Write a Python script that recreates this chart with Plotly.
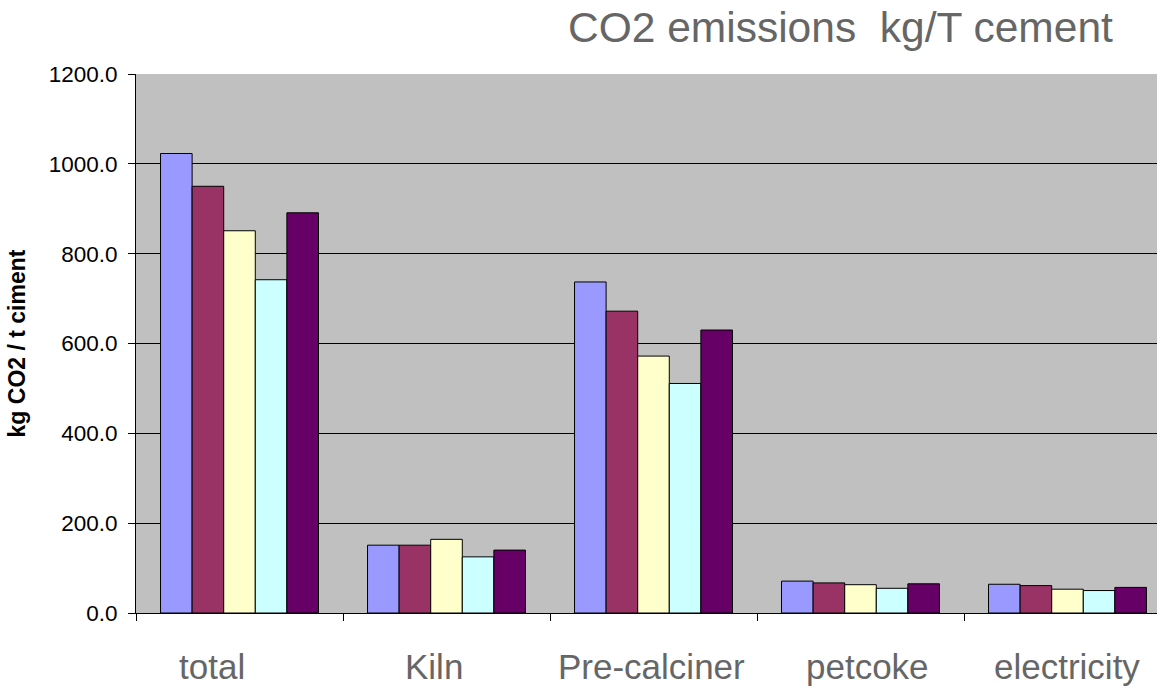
import plotly.graph_objects as go

# Emission sources (x categories)
categories = ["total", "Kiln", "Pre-calciner", "petcoke", "electricity"]

# kg CO2 per tonne of cement, one list per case
case_1 = [1023, 151, 737, 71, 64]
case_2 = [950, 151, 672, 67, 61]
case_3 = [851, 164, 572, 63, 53]
case_4 = [742, 125, 511, 55, 50]
case_5 = [891, 140, 630, 65, 57]

series = [
    ("Case 1", case_1, "#9999FF"),
    ("Case 2", case_2, "#993366"),
    ("Case 3", case_3, "#FFFFCC"),
    ("Case 4", case_4, "#CCFFFF"),
    ("Case 5", case_5, "#660066"),
]

# horizontal nudges (px) for the category captions
label_shift = [-28, -13, -2, 7, -1]

fig = go.Figure()
for name, vals, color in series:
    fig.add_trace(go.Bar(
        x=categories, y=vals, name=name,
        marker=dict(color=color, line=dict(color="#000000", width=1)),
    ))

for cat, dx in zip(categories, label_shift):
    fig.add_annotation(
        x=cat, xref="x", y=-0.0985, yref="paper",
        text=cat, showarrow=False, xshift=dx,
        xanchor="center", yanchor="middle",
        font=dict(family="Liberation Sans, Arial, sans-serif", size=35, color="#666666"),
    )

fig.add_annotation(
    x=(1115 - 136) / 1021, xref="paper", y=1.086, yref="paper",
    text="CO2 emissions  kg/T cement", showarrow=False,
    xanchor="right", yanchor="middle",
    font=dict(family="Liberation Sans, Arial, sans-serif", size=42.5, color="#666666"),
)

fig.update_layout(
    width=1157, height=686,
    margin=dict(l=136, r=0, t=74, b=73),
    barmode="group", bargap=0.237, bargroupgap=0,
    showlegend=False,
    paper_bgcolor="#FFFFFF", plot_bgcolor="#C0C0C0",
    font=dict(family="Liberation Sans, Arial, sans-serif", color="#000000"),
)

fig.update_xaxes(
    range=[-0.5, 4.5 - 14 / 207],
    showticklabels=False,
    tickson="boundaries", ticks="outside", ticklen=7, tickcolor="#000000",
    showline=True, linecolor="#000000", linewidth=1,
    showgrid=False,
)

fig.update_yaxes(
    range=[0, 1200], dtick=200, tickformat=".1f",
    ticks="outside", ticklen=7, tickcolor="#000000",
    ticklabelstandoff=6,
    tickfont=dict(size=22.5, color="#000000"),
    showline=True, linecolor="#000000", linewidth=1,
    showgrid=True, gridcolor="#000000", gridwidth=1,
    zeroline=False,
    title=dict(text="<b>kg CO2 / t ciment</b>", font=dict(size=23, color="#000000"), standoff=16),
)

fig.write_html("out.html")
